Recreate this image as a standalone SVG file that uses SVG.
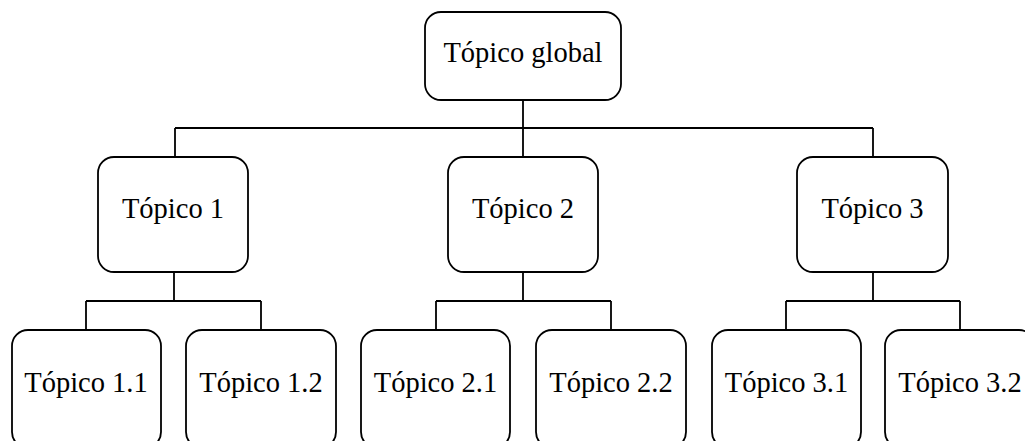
<svg xmlns="http://www.w3.org/2000/svg" width="1025" height="441" viewBox="0 0 1025 441">
<style>
.box{fill:#fff;stroke:#000;stroke-width:1.8}
.t{font-family:"Liberation Serif","Times New Roman",serif;font-size:28.5px;fill:#000;text-anchor:middle}
.c{fill:none;stroke:#000;stroke-width:1.8}
</style>
<rect width="1025" height="441" fill="#fff"/>
<g id="connectors">
<path class="c" d="M523 100V157M175 128H873M175 128V157M873 128V157"/>
<path class="c" d="M174 272V301M86 301H261M86 301V330M261 301V330"/>
<path class="c" d="M523 272V301M436 301H611M436 301V330M611 301V330"/>
<path class="c" d="M873 272V301M786 301H960M786 301V330M960 301V330"/>
</g>
<g id="global"><rect class="box" x="425" y="12" width="196" height="88" rx="16"/><text class="t" x="523" y="62">Tópico global</text></g>
<g id="t1"><rect class="box" x="98" y="157" width="150" height="115" rx="16"/><text class="t" x="173" y="218">Tópico 1</text></g>
<g id="t2"><rect class="box" x="448" y="157" width="150" height="115" rx="16"/><text class="t" x="523" y="218">Tópico 2</text></g>
<g id="t3"><rect class="box" x="797" y="157" width="151" height="115" rx="16"/><text class="t" x="872.5" y="218">Tópico 3</text></g>
<g id="t11"><rect class="box" x="12" y="330" width="149" height="118" rx="16"/><text class="t" x="86" y="392">Tópico 1.1</text></g>
<g id="t12"><rect class="box" x="186" y="330" width="150" height="118" rx="16"/><text class="t" x="261" y="392">Tópico 1.2</text></g>
<g id="t21"><rect class="box" x="361" y="330" width="149" height="118" rx="16"/><text class="t" x="435.5" y="392">Tópico 2.1</text></g>
<g id="t22"><rect class="box" x="536" y="330" width="150" height="118" rx="16"/><text class="t" x="611" y="392">Tópico 2.2</text></g>
<g id="t31"><rect class="box" x="712" y="330" width="149" height="118" rx="16"/><text class="t" x="786.5" y="392">Tópico 3.1</text></g>
<g id="t32"><rect class="box" x="885" y="330" width="150" height="118" rx="16"/><text class="t" x="960" y="392">Tópico 3.2</text></g>
</svg>
